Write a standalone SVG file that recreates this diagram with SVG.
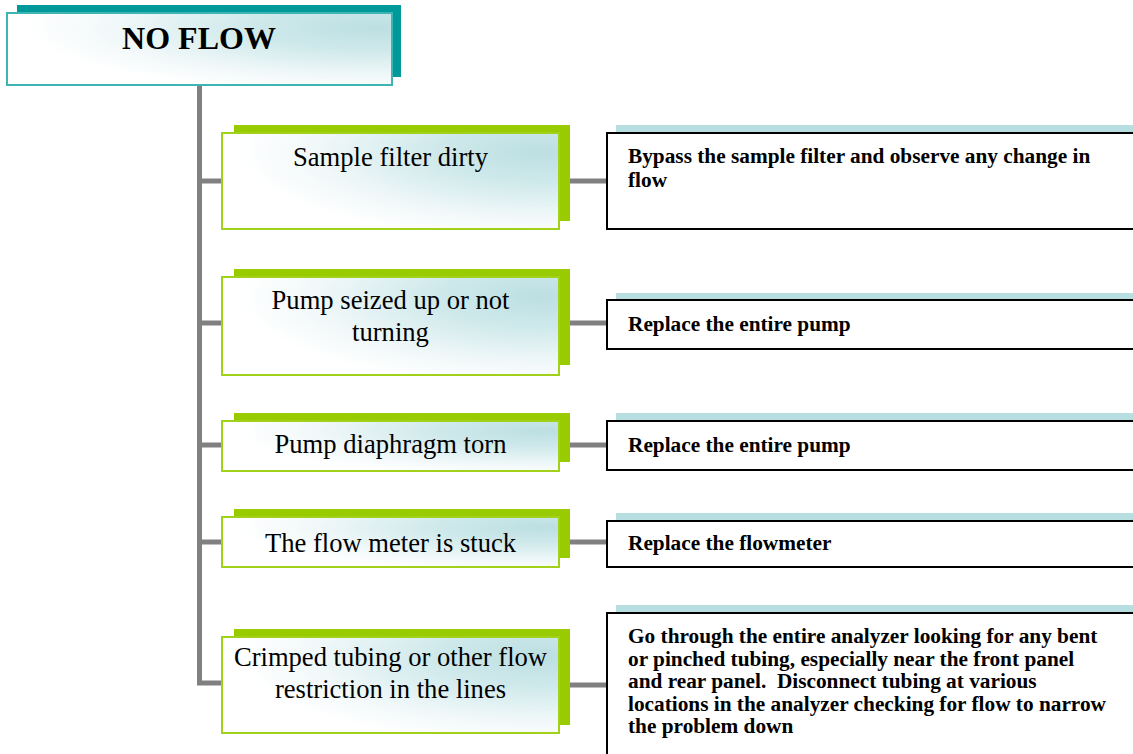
<svg xmlns="http://www.w3.org/2000/svg" width="1133" height="754" viewBox="0 0 1133 754">
  <defs>
    <!-- soft teal wash toward the upper right of each header/cause box -->
    <radialGradient id="glow" cx="0.95" cy="0.2" r="0.9" fx="0.95" fy="0.2">
      <stop offset="0" stop-color="#bcdfe2"/>
      <stop offset="0.35" stop-color="#cfe9eb"/>
      <stop offset="0.75" stop-color="#f1f8f9"/>
      <stop offset="1" stop-color="#ffffff"/>
    </radialGradient>
  </defs>
  <style>
    .title-back { fill: #009999; }
    .title-front { fill: url(#glow); stroke: #3db5b5; stroke-width: 2; }
    .cause-back { fill: #99cc00; }
    .cause-front { fill: url(#glow); stroke: #a2d11a; stroke-width: 2; }
    .fix-back { fill: #b7dfe2; }
    .fix-front { fill: #ffffff; stroke: #000000; stroke-width: 2; }
    .link { fill: none; stroke: #808080; stroke-width: 5; stroke-linejoin: miter; stroke-linecap: butt; }
    .title-text { font-family: "Liberation Serif", "Times New Roman", serif; font-weight: bold; font-size: 32px; fill: #000; text-anchor: middle; }
    .cause-text { font-family: "Liberation Serif", "Times New Roman", serif; font-size: 26.6px; fill: #000; text-anchor: middle; }
    .fix-text { font-family: "Liberation Serif", "Times New Roman", serif; font-weight: bold; font-size: 21.3px; fill: #000; white-space: pre; }
  </style>

  <rect width="1133" height="754" fill="#ffffff"/>

  <!-- trunk and branch lines -->
  <g id="connectors">
    <path class="link" d="M199.5 85 V683 H222"/>
    <path class="link" d="M199.5 181 H222"/>
    <path class="link" d="M199.5 323 H222"/>
    <path class="link" d="M199.5 445 H222"/>
    <path class="link" d="M199.5 542 H222"/>
    <path class="link" d="M570 181 H607"/>
    <path class="link" d="M570 323 H607"/>
    <path class="link" d="M570 445 H607"/>
    <path class="link" d="M570 542 H607"/>
    <path class="link" d="M570 685 H607"/>
  </g>

  <!-- header -->
  <g id="no-flow">
    <rect class="title-back" x="17" y="5" width="384" height="72"/>
    <rect class="title-front" x="7" y="13" width="385" height="72"/>
    <text class="title-text" x="199" y="49">NO FLOW</text>
  </g>

  <!-- causes -->
  <g id="cause-filter">
    <rect class="cause-back" x="234" y="125" width="336" height="96"/>
    <rect class="cause-front" x="222" y="133" width="337" height="96"/>
    <text class="cause-text" x="390.5" y="166">Sample filter dirty</text>
  </g>
  <g id="cause-pump-seized">
    <rect class="cause-back" x="234" y="269" width="336" height="96"/>
    <rect class="cause-front" x="222" y="277" width="337" height="98"/>
    <text class="cause-text" x="390.5" y="309">Pump seized up or not</text>
    <text class="cause-text" x="390.5" y="341">turning</text>
  </g>
  <g id="cause-diaphragm">
    <rect class="cause-back" x="234" y="413" width="336" height="49"/>
    <rect class="cause-front" x="222" y="421" width="337" height="50"/>
    <text class="cause-text" x="390.5" y="453">Pump diaphragm torn</text>
  </g>
  <g id="cause-flowmeter">
    <rect class="cause-back" x="234" y="509" width="336" height="49"/>
    <rect class="cause-front" x="222" y="517" width="337" height="50"/>
    <text class="cause-text" x="390.5" y="552">The flow meter is stuck</text>
  </g>
  <g id="cause-tubing">
    <rect class="cause-back" x="234" y="629" width="336" height="96"/>
    <rect class="cause-front" x="222" y="637" width="337" height="96"/>
    <text class="cause-text" x="390.5" y="666">Crimped tubing or other flow</text>
    <text class="cause-text" x="390.5" y="698">restriction in the lines</text>
  </g>

  <!-- remedies -->
  <g id="fix-filter">
    <rect class="fix-back" x="616" y="125" width="530" height="8"/>
    <rect class="fix-front" x="607" y="133" width="540" height="96"/>
    <text class="fix-text" x="628" y="163">Bypass the sample filter and observe any change in</text>
    <text class="fix-text" x="628" y="187">flow</text>
  </g>
  <g id="fix-pump-seized">
    <rect class="fix-back" x="616" y="293" width="530" height="7"/>
    <rect class="fix-front" x="607" y="300" width="540" height="49"/>
    <text class="fix-text" x="628" y="331">Replace the entire pump</text>
  </g>
  <g id="fix-diaphragm">
    <rect class="fix-back" x="616" y="413" width="530" height="8"/>
    <rect class="fix-front" x="607" y="421" width="540" height="49"/>
    <text class="fix-text" x="628" y="452">Replace the entire pump</text>
  </g>
  <g id="fix-flowmeter">
    <rect class="fix-back" x="616" y="513" width="530" height="8"/>
    <rect class="fix-front" x="607" y="521" width="540" height="46"/>
    <text class="fix-text" x="628" y="550">Replace the flowmeter</text>
  </g>
  <g id="fix-tubing">
    <rect class="fix-back" x="616" y="605" width="530" height="8"/>
    <rect class="fix-front" x="607" y="613" width="540" height="160"/>
    <text class="fix-text" x="628" y="643">Go through the entire analyzer looking for any bent</text>
    <text class="fix-text" x="628" y="665.5">or pinched tubing, especially near the front panel</text>
    <text class="fix-text" x="628" y="688" xml:space="preserve">and rear panel.  Disconnect tubing at various</text>
    <text class="fix-text" x="628" y="710.5">locations in the analyzer checking for flow to narrow</text>
    <text class="fix-text" x="628" y="733">the problem down</text>
  </g>
</svg>
